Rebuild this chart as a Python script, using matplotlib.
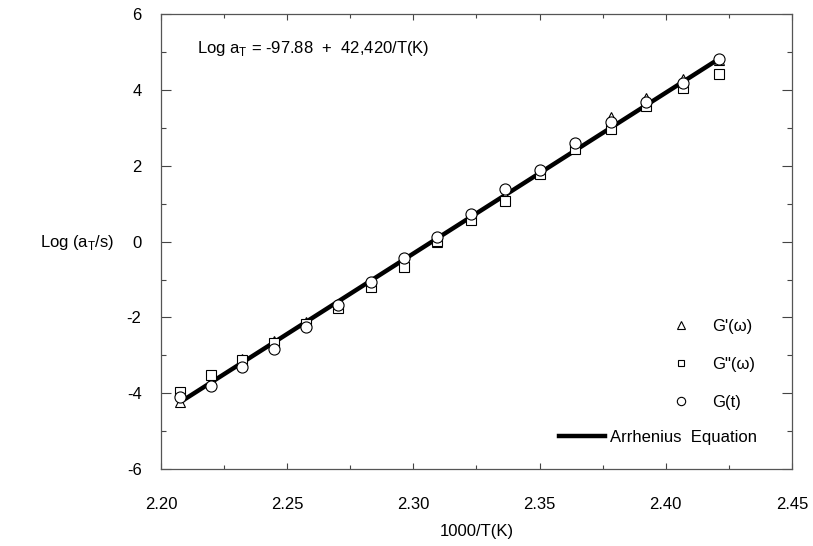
import matplotlib
matplotlib.use("Agg")
import matplotlib.pyplot as plt
from matplotlib.ticker import MultipleLocator, FormatStrFormatter
from matplotlib.lines import Line2D

plt.rcParams['font.family'] = ['Liberation Sans', 'DejaVu Sans']
plt.rcParams['axes.unicode_minus'] = False

# 1000/T(K) for each measuring temperature
inv_t = [2.2075, 2.2198, 2.2321, 2.2447, 2.2573, 2.2701, 2.2831, 2.2962, 2.3095,
         2.3229, 2.3364, 2.3502, 2.3641, 2.3782, 2.3923, 2.4067, 2.4213]

# shift factors
log_g1 = [-4.22, -3.68, -3.10, -2.62, -2.12, -1.70, -1.12, -0.62, 0.00,
          0.62, 1.20, 1.85, 2.52, 3.30, 3.78, 4.28, 4.80]
log_g2 = [-3.96, -3.52, -3.12, -2.67, -2.18, -1.74, -1.20, -0.66, 0.02,
          0.56, 1.06, 1.78, 2.45, 2.98, 3.58, 4.04, 4.43]
log_gt = [-4.10, -3.80, -3.32, -2.84, -2.26, -1.66, -1.06, -0.43, 0.12,
          0.72, 1.38, 1.90, 2.60, 3.15, 3.68, 4.18, 4.81]

# Arrhenius fit, end points
fit_x = [2.2075, 2.4213]
fit_y = [-4.24, 4.83]

fig = plt.figure(figsize=(8.13, 5.46), dpi=100)
ax = fig.add_axes([0.198, 0.141, 0.776, 0.833])

# linea de ajuste
fit_line, = ax.plot(fit_x, fit_y, color='black', lw=3.2, solid_capstyle='butt', zorder=2)

mk = dict(linestyle='none', mfc='white', mec='black', mew=0.8, zorder=3)
h1, = ax.plot(inv_t, log_g1, marker='^', ms=7, label="G'(\u03c9)", **mk)
h2, = ax.plot(inv_t, log_g2, marker='s', ms=6.5, label='G"(\u03c9)', **mk)
h3, = ax.plot(inv_t, log_gt, marker='o', ms=8, label='G(t)', **mk)

ax.set_xlim(2.20, 2.45)
ax.set_ylim(-6, 6)
ax.xaxis.set_major_locator(MultipleLocator(0.05))
ax.xaxis.set_minor_locator(MultipleLocator(0.025))
ax.yaxis.set_major_locator(MultipleLocator(2))
ax.yaxis.set_minor_locator(MultipleLocator(1))
ax.xaxis.set_major_formatter(FormatStrFormatter('%.2f'))

fs = 12
ax.tick_params(axis='x', which='major', direction='in', top=True, length=4, width=0.8,
               pad=20, labelsize=fs, color='#444')
ax.tick_params(axis='x', which='minor', direction='in', top=True, length=3, width=0.8, color='#444')
ax.tick_params(axis='y', which='major', direction='in', right=True, length=7, width=0.8,
               pad=14, labelsize=fs, color='#444')
ax.tick_params(axis='y', which='minor', direction='in', right=True, length=3.5, width=0.8, color='#444')
for s in ax.spines.values():
    s.set_linewidth(0.9)
    s.set_color('#555')

ax.set_xlabel('1000/T(K)', fontsize=fs, labelpad=9)
ax.set_ylabel('Log (a$_\\mathregular{T}$/s)', fontsize=fs, rotation=0, ha='left', va='center')
ax.yaxis.set_label_coords(-0.192, 0.497)

ax.text(0.057, 0.925, 'Log a$_\\mathregular{T}$ = -97.88  +  42,420/T(K)',
        transform=ax.transAxes, fontsize=fs, va='center', ha='left')

leg1 = ax.legend(handles=[h1, h2, h3], loc='upper left', bbox_to_anchor=(0.80, 0.345),
                 frameon=False, fontsize=fs, markerscale=0.75, handlelength=1.0,
                 handletextpad=1.4, labelspacing=1.38, borderaxespad=0)
ax.add_artist(leg1)
ax.legend(handles=[Line2D([], [], color='black', lw=3.2)], labels=['Arrhenius  Equation'],
          loc='upper left', bbox_to_anchor=(0.62, 0.10), frameon=False, fontsize=fs,
          handlelength=2.8, handletextpad=0.3, borderaxespad=0)

fig.savefig('out.png', dpi=100)
